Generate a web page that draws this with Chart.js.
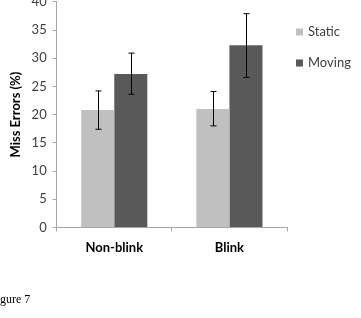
<!DOCTYPE html>
<html>
<head>
<meta charset="utf-8">
<script src="https://cdn.jsdelivr.net/npm/chart.js@4"></script>
<style>
  html, body { margin: 0; padding: 0; background: #fff; }
  #wrap { position: relative; width: 361px; height: 318px; overflow: hidden; }
  #bar { position: absolute; left: 0; top: -12px; }
  #caption {
    position: absolute; left: 0; top: 292px;
    font: 12px "Liberation Serif", serif; color: #000;
  }
</style>
</head>
<body>
<div id="wrap">
  <canvas id="bar" width="361" height="330"></canvas>
  <div id="caption">gure 7</div>
</div>
<script>
const categories = ["Non-blink", "Blink"];
const seriesNames = ["Static", "Moving"];
const staticValues = [20.8, 21.0];
const movingValues = [27.2, 32.3];
const staticErrLow = [17.4, 18.0];
const staticErrHigh = [24.2, 24.1];
const movingErrLow = [23.6, 26.6];
const movingErrHigh = [30.9, 37.9];
const yTicks = [0, 5, 10, 15, 20, 25, 30, 35, 40];

(() => {
  const errorBars = {
    id: "errorBars",
    afterDatasetsDraw: (chart) => {
      const { ctx, scales } = chart;
      const ranges = [
        [staticErrLow, staticErrHigh],
        [movingErrLow, movingErrHigh],
      ];
      ctx.save();
      ctx.strokeStyle = "#000";
      ctx.lineWidth = 1;
      ranges.forEach((r, di) => {
        const meta = chart.getDatasetMeta(di);
        meta.data.forEach((bar, i) => {
          const x = Math.round(bar.x) + 0.5;
          const yLo = scales.y.getPixelForValue(r[0][i]);
          const yHi = scales.y.getPixelForValue(r[1][i]);
          ctx.beginPath();
          ctx.moveTo(x, yLo);
          ctx.lineTo(x, yHi);
          ctx.moveTo(x - 3, yLo);
          ctx.lineTo(x + 3, yLo);
          ctx.moveTo(x - 3, yHi);
          ctx.lineTo(x + 3, yHi);
          ctx.stroke();
        });
      });
      ctx.restore();
    },
  };

  // legend sits to the right of the plot, canvas is shifted up 12px
  const sideLegend = {
    id: "sideLegend",
    afterDraw: (chart) => {
      const { ctx } = chart;
      ctx.save();
      ctx.font = "13px Lato";
      ctx.textBaseline = "middle";
      chart.data.datasets.forEach((ds, i) => {
        const y = 44 + i * 31;
        ctx.fillStyle = ds.backgroundColor;
        ctx.fillRect(296, y - 3.5, 7, 7);
        ctx.fillStyle = "#404040";
        ctx.fillText(ds.label, 308, y);
      });
      ctx.restore();
    },
  };

  const ctx = document.getElementById("bar");
  const data = {
    labels: categories,
    datasets: [
      {
        label: seriesNames[0],
        data: staticValues,
        backgroundColor: "#c0c0c0",
        borderWidth: 0,
      },
      {
        label: seriesNames[1],
        data: movingValues,
        backgroundColor: "#595959",
        borderWidth: 0,
      },
    ],
  };
  const config = {
    type: "bar",
    data: data,
    plugins: [errorBars, sideLegend],
    options: {
      responsive: false,
      animation: false,
      categoryPercentage: 0.574,
      barPercentage: 1,
      layout: {
        padding: { left: 8, right: 74, top: 0, bottom: 53 },
      },
      plugins: {
        legend: { display: false },
        tooltip: { enabled: false },
      },
      scales: {
        x: {
          border: { color: "#a6a6a6" },
          grid: {
            display: true,
            drawOnChartArea: false,
            tickLength: 4,
            color: "#a6a6a6",
          },
          ticks: {
            color: "#000",
            padding: 9,
            font: { family: "Lato", size: 13, weight: "bold" },
          },
        },
        y: {
          min: 0,
          max: 40,
          border: { color: "#a6a6a6" },
          grid: {
            display: true,
            drawOnChartArea: false,
            tickLength: 4,
            color: "#a6a6a6",
          },
          afterBuildTicks: (axis) => {
            axis.ticks = yTicks.map((v) => ({ value: v }));
          },
          ticks: {
            color: "#404040",
            padding: 6,
            font: { family: "Lato", size: 13 },
          },
          title: {
            display: true,
            text: "Miss Errors (%)",
            color: "#000",
            padding: { top: 0, bottom: 2 },
            font: { family: "Lato", size: 13, weight: "bold" },
          },
        },
      },
    },
  };

  new Chart(ctx, config);
})();
</script>
</body>
</html>
